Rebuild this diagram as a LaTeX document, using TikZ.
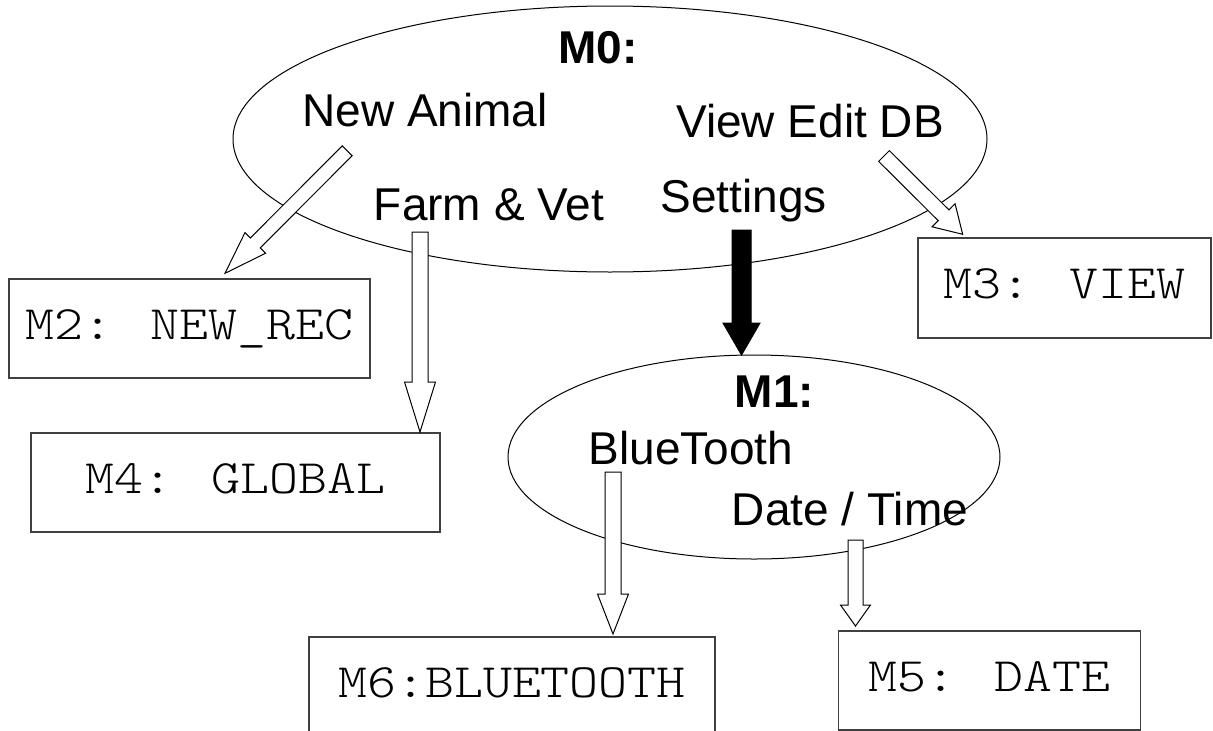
\documentclass[tikz,border=0pt]{standalone}
\usepackage{fontspec}
\setmainfont{Liberation Sans}
\newfontfamily\boxfont[Extension=.otf,FakeStretch=1.15]{lmmonolt10-regular}
\usetikzlibrary{shapes.geometric,calc}

% Block arrow: #2 tail point, #3 tip point, #4 shaft half width,
% #5 head half width, #6 head length
\newcommand{\blockarrow}[6][]{%
  \coordinate (ba-s) at (#2);
  \coordinate (ba-e) at (#3);
  \coordinate (ba-h) at ($(ba-e)!#6!(ba-s)$);
  \draw[#1] ($(ba-s)!#4!90:(ba-e)$) -- ($(ba-h)!#4!-90:(ba-s)$)
    -- ($(ba-h)!#5!-90:(ba-s)$) -- (ba-e) -- ($(ba-h)!#5!90:(ba-s)$)
    -- ($(ba-h)!#4!90:(ba-s)$) -- ($(ba-s)!#4!-90:(ba-e)$) -- cycle;
}

\tikzset{
  menu/.style={draw=black, ellipse, line width=1pt, inner sep=0pt},
  menuitem/.style={inner sep=0pt, anchor=base, font=\fontsize{46}{55}\selectfont},
  screenbox/.style={draw=black!75, line width=1.3pt, rectangle, inner sep=0pt,
    font=\boxfont\fontsize{48}{56}\selectfont, text height=26pt, text depth=5pt},
  hollow/.style={draw=black, fill=white, line width=1pt, line join=miter},
  filledarrow/.style={draw=black, fill=black, line width=1pt, line join=miter},
}

\begin{document}
\begin{tikzpicture}[x=1pt,y=-1pt]
\clip (0,0) rectangle (1213,731);
\fill[white] (0,0) rectangle (1213,731);

% menus
\node[menu, minimum width=754pt, minimum height=266pt] (m0) at (610,139) {};
\node[menu, minimum width=492pt, minimum height=204pt] (m1) at (754,457) {};

% screens
\node[screenbox, minimum width=361pt, minimum height=99pt] (m2) at (189.5,328.5) {M2: NEW\_REC};
\node[screenbox, minimum width=409pt, minimum height=99pt] (m4) at (235.5,482.5) {M4: GLOBAL};
\node[screenbox, minimum width=293pt, minimum height=100pt] (m3) at (1064.5,288) {M3: VIEW};
\node[screenbox, minimum width=406pt, minimum height=100pt] (m6) at (512,687) {M6:BLUETOOTH};
\node[screenbox, minimum width=302pt, minimum height=99pt] (m5) at (989.5,680.5) {M5: DATE};

% arrow end points
\coordinate (naS) at (347.2,150.8);  \coordinate (naE) at (225,273.3);
\coordinate (fvS) at (420,232);      \coordinate (fvE) at (420,432);
\coordinate (vdS) at (884,156);      \coordinate (vdE) at (962.7,234.3);
\coordinate (stS) at (741.5,230);    \coordinate (stE) at (741.5,355);
\coordinate (btS) at (613,472);      \coordinate (btE) at (613,634);
\coordinate (dtS) at (855.5,540);    \coordinate (dtE) at (855.5,626);

\blockarrow[hollow]{naS}{naE}{7pt}{14.6pt}{42.9pt}
\blockarrow[hollow]{fvS}{fvE}{8pt}{15.5pt}{50pt}
\blockarrow[hollow]{vdS}{vdE}{7.6pt}{16.3pt}{27pt}
\blockarrow[filledarrow]{stS}{stE}{9.5pt}{18.5pt}{32pt}
\blockarrow[hollow]{btS}{btE}{8pt}{15.5pt}{40pt}
\blockarrow[hollow]{dtS}{dtE}{7.5pt}{15pt}{21pt}

% menu entries
\node[menuitem] (m0t) at (598,63) {\bfseries M0:};
\node[menuitem] (na) at (425,126) {New Animal};
\node[menuitem] (vd) at (810,137) {View Edit DB};
\node[menuitem] (fv) at (489,220) {Farm \& Vet};
\node[menuitem] (st) at (743.5,212) {Settings};
\node[menuitem] (m1t) at (774.5,407) {\bfseries M1:};
\node[menuitem] (bt) at (691,464) {BlueTooth};
\node[menuitem] (dt) at (850,525) {Date / Time};
\end{tikzpicture}
\end{document}
